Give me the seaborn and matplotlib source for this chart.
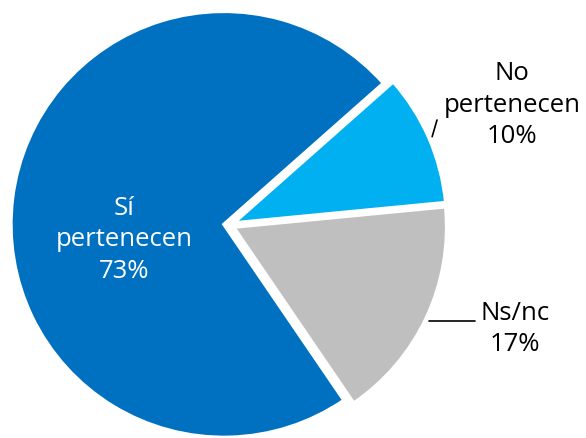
import numpy as np
import matplotlib
matplotlib.use("Agg")
import matplotlib.pyplot as plt
import seaborn as sns

# data
categories = ["Sí\npertenecen", "No\npertenecen", "Ns/nc"]
values = [73, 10, 17]
colors = ["#0070C0", "#00B0F0", "#BFBFBF"]

sns.set_theme(style="white")
plt.rcParams['font.family'] = ['Open Sans', 'DejaVu Sans']

W, H = 586, 438
fig = plt.figure(figsize=(W / 100, H / 100), dpi=100)
ax = fig.add_axes([0, 0, 1, 1])

# pie center / radius in pixels
cx, cy, rad = 229, 225, 213

def px(x, y):
    return (x - cx) / rad, (cy - y) / rad

wedges, _ = ax.pie(values, colors=colors, startangle=304.3, counterclock=False,
                   explode=[0.024] * 3, radius=1,
                   wedgeprops=dict(edgecolor="white", linewidth=2.5))

labels = [f"{c}\n{v}%" for c, v in zip(categories, values)]
label_pos = [px(124, 240), px(512, 105), px(515, 329)]
label_col = ["white", "black", "black"]
leader_end = [None, px(437, 120), px(475, 321)]

for i, (w, lab, pos, col, end) in enumerate(zip(wedges, labels, label_pos, label_col, leader_end)):
    ax.text(pos[0], pos[1], lab, ha="center", va="center", color=col,
            fontsize=18.5, linespacing=1.33)
    if end is not None:
        ang = np.deg2rad((w.theta1 + w.theta2) / 2)
        sx, sy = 1.04 * np.cos(ang), 1.04 * np.sin(ang)
        if i == 2:
            # horizontal leader for Ns/nc
            sy = end[1]
            sx = np.sqrt(1.04 ** 2 - sy ** 2)
        ax.plot([sx, end[0]], [sy, end[1]], color="black", lw=1.2)

ax.set_xlim(-cx / rad, (W - cx) / rad)
ax.set_ylim(-(H - cy) / rad, cy / rad)
ax.set_aspect("auto")
ax.axis("off")

fig.savefig("out.png", dpi=100)
